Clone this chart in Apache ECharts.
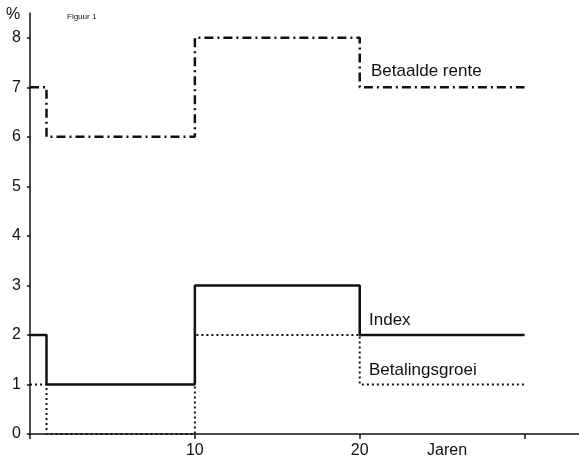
<!DOCTYPE html>
<html><head><meta charset="utf-8">
<script src="https://cdn.jsdelivr.net/npm/echarts@6/dist/echarts.min.js"></script>
<style>html,body{margin:0;padding:0;background:#fff}#c{width:579px;height:459px}</style>
</head><body><div id="c"></div>
<script>
const years = [0, 1, 10, 20, 30];
const betaaldeRente = [7, 6, 8, 7, 7];
const indexVals = [2, 1, 3, 2, 2];
const betalingsgroei = [1, 0, 2, 1, 1];
const xTicks = [0, 10, 20, 30];
const xTickLabels = [10, 20];
const yTicks = [0,1,2,3,4,5,6,7,8];

const chart = echarts.init(document.getElementById('c'));
const font = 'Liberation Sans, Arial, Helvetica, sans-serif';
const pair = arr => years.map((x, i) => [x, arr[i]]);
chart.setOption({
  animation: false,
  grid: {left: 30, right: 0, top: 13, bottom: 25},
  xAxis: {
    type: 'value', min: 0, max: 33.3,
    axisLine: {show: true, lineStyle: {color: '#111', width: 1.5}},
    axisTick: {show: true, length: 5, customValues: xTicks, lineStyle: {color: '#111', width: 1.5}},
    axisLabel: {color: '#111', fontFamily: font, fontSize: 16, margin: 9, customValues: xTickLabels},
    splitLine: {show: false}
  },
  yAxis: {
    type: 'value', min: 0, max: 8.5,
    axisLine: {show: true, lineStyle: {color: '#111', width: 1.5}},
    axisTick: {show: true, length: 3, customValues: yTicks, lineStyle: {color: '#111', width: 1.5}},
    axisLabel: {color: '#111', fontFamily: font, fontSize: 16, margin: 9, customValues: yTicks},
    splitLine: {show: false}
  },
  series: [
    {type: 'line', step: 'end', data: pair(betaaldeRente), symbol: 'none',
     lineStyle: {color: '#111', width: 2.5, type: [9, 4, 2, 4]}},
    {type: 'line', step: 'end', data: pair(indexVals), symbol: 'none',
     lineStyle: {color: '#111', width: 2.5, type: 'solid'}},
    {type: 'line', step: 'end', data: pair(betalingsgroei), symbol: 'none',
     lineStyle: {color: '#111', width: 2, type: [2, 3]}}
  ],
  graphic: [
    {type: 'text', left: 6, top: 7, style: {text: '%', font: '16px ' + font, fill: '#111'}},
    {type: 'text', left: 67, top: 13, style: {text: 'Figuur 1', font: '8px ' + font, fill: '#111'}},
    {type: 'text', left: 371, top: 63, style: {text: 'Betaalde rente', font: '17px ' + font, fill: '#111'}},
    {type: 'text', left: 369, top: 312, style: {text: 'Index', font: '17px ' + font, fill: '#111'}},
    {type: 'text', left: 369, top: 362, style: {text: 'Betalingsgroei', font: '17px ' + font, fill: '#111'}},
    {type: 'text', left: 427, top: 443, style: {text: 'Jaren', font: '16px ' + font, fill: '#111'}}
  ]
});
</script></body></html>
